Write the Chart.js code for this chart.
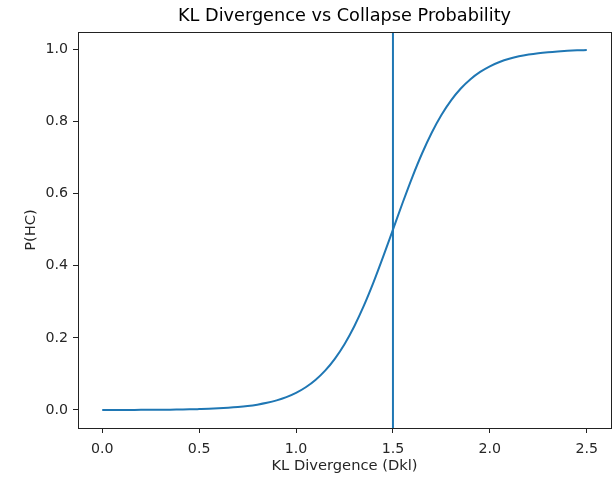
<!DOCTYPE html>
<html><head><meta charset="utf-8">
<script src="https://cdn.jsdelivr.net/npm/chart.js@4/dist/chart.umd.min.js"></script>
<style>html,body{margin:0;padding:0;background:#fff}#wrap{width:614px;height:477px}</style>
</head><body><div id="wrap"><canvas id="c" width="614" height="477"></canvas></div>
<script>
const kl = [0,0.05,0.1,0.15,0.2,0.25,0.3,0.35,0.4,0.45,0.5,0.55,0.6,0.65,0.7,0.75,0.8,0.85,0.9,0.95,1.0,1.05,1.1,1.15,1.2,1.25,1.3,1.35,1.4,1.45,1.5,1.55,1.6,1.65,1.7,1.75,1.8,1.85,1.9,1.95,2.0,2.05,2.1,2.15,2.2,2.25,2.3,2.35,2.4,2.45,2.5];
const pHC = [0.0001,0.0002,0.0002,0.0003,0.0004,0.0006,0.0007,0.0010,0.0014,0.0018,0.0025,0.0033,0.0045,0.0061,0.0082,0.0110,0.0148,0.0198,0.0266,0.0356,0.0474,0.0630,0.0832,0.1091,0.1419,0.1824,0.2315,0.2891,0.3543,0.4256,0.5000,0.5744,0.6457,0.7109,0.7685,0.8176,0.8581,0.8909,0.9168,0.9370,0.9526,0.9644,0.9734,0.9802,0.9852,0.9890,0.9918,0.9939,0.9955,0.9967,0.9975];
const threshold = 1.5;
const xTicks = [0,0.5,1.0,1.5,2.0,2.5];
const yTicks = [0,0.2,0.4,0.6,0.8,1.0];

const FONT = 'DejaVu Sans';
const TXT = '#262626';

const boxPlugin = {
  id: 'box',
  afterDatasetsDraw(chart) {
    const {ctx, chartArea:a, scales:{x}} = chart;
    ctx.save();
    const px = x.getPixelForValue(threshold);
    ctx.strokeStyle = '#1f77b4'; ctx.lineWidth = 2;
    ctx.beginPath(); ctx.moveTo(px, a.top); ctx.lineTo(px, a.bottom); ctx.stroke();
    ctx.strokeStyle = '#222'; ctx.lineWidth = 1;
    ctx.strokeRect(Math.round(a.left)+0.5, Math.round(a.top)+0.5, Math.round(a.right-a.left), Math.round(a.bottom-a.top));
    ctx.restore();
  }
};

new Chart(document.getElementById('c'), {
  type: 'line',
  data: { datasets: [{
    data: kl.map((v,i)=>({x:v, y:pHC[i]})),
    borderColor: '#1f77b4', borderWidth: 2, pointRadius: 0, cubicInterpolationMode: 'monotone', fill: false
  }]},
  options: {
    responsive: false, animation: false,
    layout: { padding: { left: 0, right: 3, top: 0, bottom: 0 } },
    plugins: {
      legend: { display: false }, tooltip: { enabled: false },
      title: { display: true, fullSize: false, text: 'KL Divergence vs Collapse Probability', color: '#000',
        font: { family: FONT, size: 17.7, weight: 'normal' }, padding: { top: 6, bottom: 4.8 } }
    },
    scales: {
      x: { type: 'linear', min: -0.125, max: 2.625,
        afterBuildTicks(s){ s.ticks = xTicks.map(v=>({value:v})); },
        afterFit(s){ s.height = 49; },
        ticks: { color: TXT, font: { family: FONT, size: 14.2 }, padding: 8, maxRotation: 0,
          callback: v => v.toFixed(1) },
        grid: { display: true, drawOnChartArea: false, tickLength: 5, color: '#222' },
        border: { display: false },
        title: { display: true, text: 'KL Divergence (Dkl)', color: TXT, font: { family: FONT, size: 14.7 }, padding: { top: 2, bottom: 2 } }
      },
      y: { type: 'linear', min: -0.0499, max: 1.0475,
        afterBuildTicks(s){ s.ticks = yTicks.map(v=>({value:v})); },
        afterFit(s){ s.width = 78; },
        ticks: { color: TXT, font: { family: FONT, size: 14.2 }, padding: 5,
          callback: v => v.toFixed(1) },
        grid: { display: true, drawOnChartArea: false, tickLength: 5, color: '#222' },
        border: { display: false },
        title: { display: true, text: 'P(HC)', color: TXT, font: { family: FONT, size: 14.7 }, padding: { top: 22, bottom: 4 } }
      }
    }
  },
  plugins: [boxPlugin]
});
</script></body></html>
